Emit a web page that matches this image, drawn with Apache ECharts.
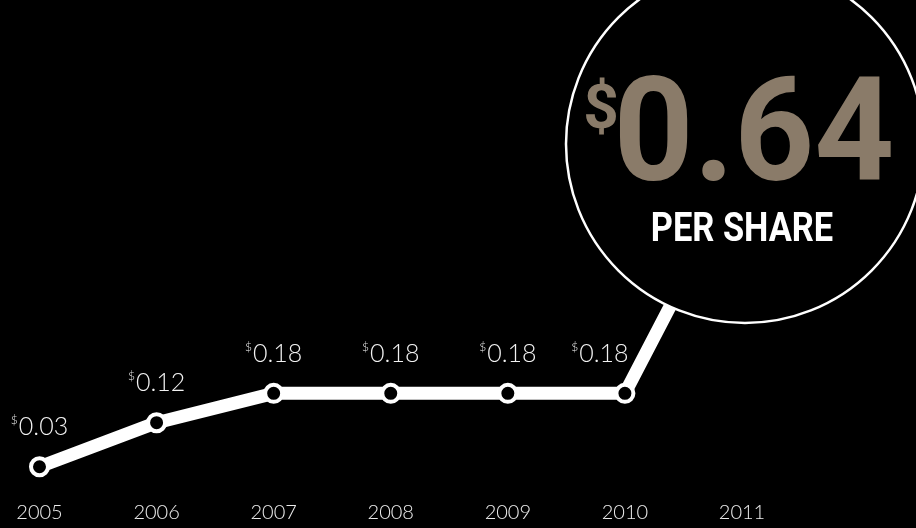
<!DOCTYPE html>
<html>
<head>
<meta charset="utf-8">
<style>
  html, body { margin: 0; padding: 0; background: #000; }
  #chart { width: 916px; height: 528px; }
</style>
<script src="https://cdn.jsdelivr.net/npm/echarts@6/dist/echarts.min.js"></script>
</head>
<body>
<div id="chart"></div>
<script>
// Annual dividend per share
const years = ['2005', '2006', '2007', '2008', '2009', '2010', '2011'];
const dividends = [0.03, 0.12, 0.18, 0.18, 0.18, 0.18, 0.64];
const headlineValue = '0.64';
const headlineCaption = 'PER SHARE';

const chart = echarts.init(document.getElementById('chart'), null, { renderer: 'canvas' });

const labelRich = {
  s: { fontFamily: 'Lato', fontSize: 12, fontWeight: 300, color: '#f2f2f2', lineHeight: 26, verticalAlign: 'top', padding: [0, 1, 0, 0] },
  v: { fontFamily: 'Lato', fontSize: 25, fontWeight: 300, color: '#f2f2f2', lineHeight: 26 }
};

const seriesData = dividends.map((v, i) => {
  const item = { value: v };
  if (i === dividends.length - 1) {
    item.label = { show: false };
    item.symbol = 'none';
  } else if (i === dividends.length - 2) {
    item.label = { offset: [-25, 0] };
  }
  return item;
});

chart.setOption({
  backgroundColor: '#000',
  animation: false,
  grid: { left: 39.5, right: 174, top: 139, bottom: 46.6 },
  xAxis: {
    type: 'category',
    data: years,
    boundaryGap: false,
    axisLine: { show: false },
    axisTick: { show: false },
    splitLine: { show: false },
    axisLabel: { color: '#ececec', fontFamily: 'Lato', fontWeight: 300, fontSize: 20, margin: 21 }
  },
  yAxis: {
    type: 'value',
    min: 0,
    max: 0.7,
    show: false,
    splitLine: { show: false }
  },
  series: [{
    type: 'line',
    data: seriesData,
    z: 2,
    lineStyle: { color: '#fff', width: 13 },
    symbol: 'circle',
    symbolSize: 17,
    showAllSymbol: true,
    itemStyle: { color: '#000', borderColor: '#fff', borderWidth: 4 },
    label: {
      show: true,
      position: 'top',
      distance: 16,
      formatter: p => '{s|$}{v|' + p.value.toFixed(2) + '}',
      rich: labelRich
    }
  }],
  graphic: [
    {
      type: 'circle',
      z: 100,
      shape: { cx: 745, cy: 144, r: 179 },
      style: { fill: '#000', stroke: '#fff', lineWidth: 2.5 }
    },
    {
      type: 'text',
      z: 101,
      x: 754, y: 144,
      scaleX: 0.97,
      style: {
        text: headlineValue,
        fill: '#8a7b69',
        font: 'bold 144px Roboto',
        textAlign: 'center',
        textVerticalAlign: 'middle'
      }
    },
    {
      type: 'text',
      z: 101,
      x: 601, y: 112,
      style: {
        text: '$',
        fill: '#8a7b69',
        font: 'bold 62px Roboto',
        textAlign: 'center',
        textVerticalAlign: 'middle'
      }
    },
    {
      type: 'text',
      z: 101,
      x: 742, y: 231,
      scaleX: 0.86,
      style: {
        text: headlineCaption,
        fill: '#fff',
        font: 'bold 40px Roboto',
        textAlign: 'center',
        textVerticalAlign: 'middle'
      }
    }
  ]
});
</script>
</body>
</html>
